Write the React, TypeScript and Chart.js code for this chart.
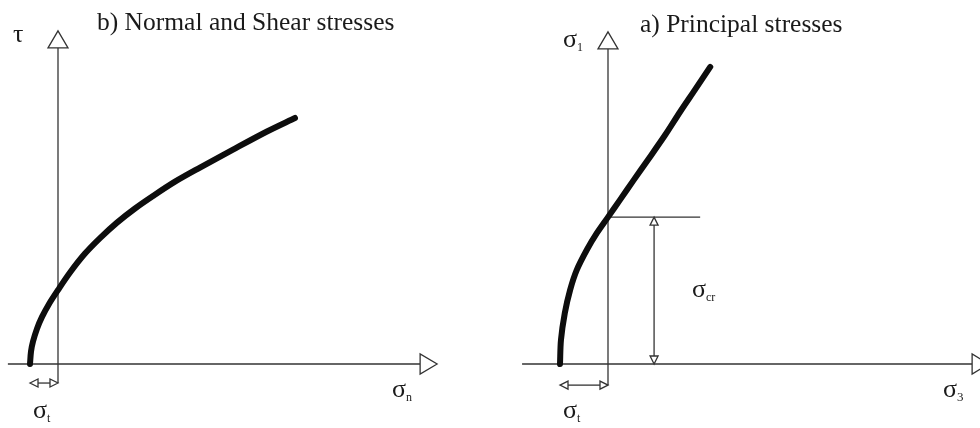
import React, { useEffect, useRef } from "react";
import { Chart, registerables } from "chart.js";

Chart.register(...registerables);

// Failure envelope in normal / shear stress space (stresses in units of σt)
const envelopeSigmaN = [-1.0, -0.964, -0.893, -0.75, -0.571, -0.321, 0, 0.429, 0.964, 1.5, 2.107, 2.75, 3.393, 4.179, 5.071, 6.25, 7.464, 8.464];
const envelopeTau = [0, 0.446, 0.8, 1.261, 1.682, 2.146, 2.643, 3.268, 3.943, 4.496, 5.05, 5.554, 6.0, 6.511, 7.014, 7.657, 8.304, 8.786];

// Failure envelope in principal stress space (stresses in units of σt)
const envelopeSigma3 = [-1.0, -0.98, -0.9, -0.79, -0.65, -0.44, -0.23, 0, 0.25, 0.52, 0.83, 1.19, 1.5, 1.81, 2.13];
const envelopeSigma1 = [0, 0.5, 1.06, 1.54, 1.96, 2.38, 2.73, 3.06, 3.42, 3.81, 4.25, 4.77, 5.25, 5.71, 6.19];

const tensileStrength = 1; // σt
const crackStress = 3.06; // σcr

const titleLeft = "b) Normal and Shear stresses";
const titleRight = "a) Principal stresses";

const HEIGHT = 428;
const AXIS_COLOR = "#333";
const INK = "#0d0d0d";
const SERIF = '"Liberation Serif", "Times New Roman", serif';
const HEAD_LEN = 17;
const HEAD_HALF = 10;
const DIM_LEN = 8;
const DIM_HALF = 4;

type Label = { main: string; sub?: string; dx: number; dy: number; size: number; subSize?: number };

interface Panel {
  left: number;
  width: number;
  xRange: [number, number];
  yRange: [number, number];
  xAxis: [number, number];
  yAxis: [number, number];
  curveX: number[];
  curveY: number[];
  tensileY: number;
  crack?: { level: number; lineTo: number; arrowX: number };
  labels: Label[];
}

const panels: Panel[] = [
  {
    left: 0,
    width: 490,
    xRange: [-58 / 28, 432 / 28],
    yRange: [-64 / 28, 364 / 28],
    xAxis: [-1.79, 13.54],
    yAxis: [-0.68, 11.9],
    curveX: envelopeSigmaN,
    curveY: envelopeTau,
    tensileY: -0.68,
    labels: [
      { main: titleLeft, dx: 39, dy: -334, size: 25.5 },
      { main: "τ", dx: -45, dy: -322, size: 26 },
      { main: "σ", sub: "n", dx: 334, dy: 33, size: 26, subSize: 12 },
      { main: "σ", sub: "t", dx: -25, dy: 54, size: 26, subSize: 12 },
    ],
  },
  {
    left: 490,
    width: 490,
    xRange: [-118 / 48, 372 / 48],
    yRange: [-64 / 48, 364 / 48],
    xAxis: [-1.79, 7.94],
    yAxis: [-0.44, 6.92],
    curveX: envelopeSigma3,
    curveY: envelopeSigma1,
    tensileY: -0.44,
    crack: { level: crackStress, lineTo: 1.92, arrowX: 0.96 },
    labels: [
      { main: titleRight, dx: 32, dy: -332, size: 25.5 },
      { main: "σ", sub: "1", dx: -45, dy: -317, size: 26, subSize: 12 },
      { main: "σ", sub: "3", dx: 335, dy: 33, size: 26, subSize: 13 },
      { main: "σ", sub: "t", dx: -45, dy: 54, size: 26, subSize: 12 },
      { main: "σ", sub: "cr", dx: 84, dy: -67, size: 26, subSize: 12 },
    ],
  },
];

// Open triangular arrowhead with its tip at (tx, ty) pointing along (ux, uy)
function head(ctx: CanvasRenderingContext2D, tx: number, ty: number, ux: number, uy: number, len: number, half: number) {
  const bx = tx - ux * len;
  const by = ty - uy * len;
  const px = -uy;
  const py = ux;
  ctx.beginPath();
  ctx.moveTo(tx, ty);
  ctx.lineTo(bx + px * half, by + py * half);
  ctx.lineTo(bx - px * half, by - py * half);
  ctx.closePath();
  ctx.fillStyle = "#fff";
  ctx.fill();
  ctx.stroke();
}

function segment(ctx: CanvasRenderingContext2D, x1: number, y1: number, x2: number, y2: number) {
  ctx.beginPath();
  ctx.moveTo(x1, y1);
  ctx.lineTo(x2, y2);
  ctx.stroke();
}

// Double-headed dimension arrow between two points
function dimension(ctx: CanvasRenderingContext2D, x1: number, y1: number, x2: number, y2: number) {
  const L = Math.hypot(x2 - x1, y2 - y1);
  const ux = (x2 - x1) / L;
  const uy = (y2 - y1) / L;
  segment(ctx, x1 + ux * DIM_LEN, y1 + uy * DIM_LEN, x2 - ux * DIM_LEN, y2 - uy * DIM_LEN);
  head(ctx, x1, y1, -ux, -uy, DIM_LEN, DIM_HALF);
  head(ctx, x2, y2, ux, uy, DIM_LEN, DIM_HALF);
}

function makeSchematic(p: Panel) {
  return {
    id: "schematic",
    beforeDatasetsDraw(chart: Chart) {
      const ctx = chart.ctx;
      const X = (v: number) => chart.scales.x.getPixelForValue(v);
      const Y = (v: number) => chart.scales.y.getPixelForValue(v);
      const ox = X(0);
      const oy = Y(0);
      ctx.save();
      ctx.strokeStyle = AXIS_COLOR;
      ctx.lineWidth = 1.3;
      ctx.lineJoin = "miter";

      // horizontal axis
      const xTip = X(p.xAxis[1]);
      segment(ctx, X(p.xAxis[0]), oy, xTip - HEAD_LEN, oy);
      head(ctx, xTip, oy, 1, 0, HEAD_LEN, HEAD_HALF);

      // vertical axis
      const yTip = Y(p.yAxis[1]);
      segment(ctx, ox, Y(p.yAxis[0]), ox, yTip + HEAD_LEN);
      head(ctx, ox, yTip, 0, -1, HEAD_LEN, HEAD_HALF);

      // tensile strength dimension
      const ty = Y(p.tensileY);
      dimension(ctx, X(-tensileStrength), ty, ox, ty);

      // crack initiation stress
      if (p.crack) {
        const cy = Y(p.crack.level);
        segment(ctx, ox, cy, X(p.crack.lineTo), cy);
        const ax = X(p.crack.arrowX);
        dimension(ctx, ax, cy, ax, oy);
      }
      ctx.restore();
    },
    afterDraw(chart: Chart) {
      const ctx = chart.ctx;
      const ox = chart.scales.x.getPixelForValue(0);
      const oy = chart.scales.y.getPixelForValue(0);
      ctx.save();
      ctx.fillStyle = "#1a1a1a";
      ctx.textBaseline = "alphabetic";
      ctx.textAlign = "left";
      for (const l of p.labels) {
        const x = ox + l.dx;
        const y = oy + l.dy;
        ctx.font = `${l.size}px ${SERIF}`;
        ctx.fillText(l.main, x, y);
        if (l.sub) {
          const w = ctx.measureText(l.main).width;
          ctx.font = `${l.subSize}px ${SERIF}`;
          ctx.fillText(l.sub, x + w, y + 4);
        }
      }
      ctx.restore();
    },
  };
}

function PanelChart({ panel }: { panel: Panel }) {
  const ref = useRef<HTMLCanvasElement>(null);
  useEffect(() => {
    const chart = new Chart(ref.current!, {
      type: "scatter",
      data: {
        datasets: [
          {
            data: panel.curveX.map((x, i) => ({ x, y: panel.curveY[i] })),
            showLine: true,
            borderColor: INK,
            borderWidth: 6,
            pointRadius: 0,
            tension: 0.3,
            borderCapStyle: "round",
            borderJoinStyle: "round",
            clip: false,
          } as any,
        ],
      },
      options: {
        animation: false,
        responsive: false,
        devicePixelRatio: 1,
        events: [],
        layout: { padding: 0 },
        plugins: { legend: { display: false }, tooltip: { enabled: false }, title: { display: false } },
        scales: {
          x: { type: "linear", display: false, min: panel.xRange[0], max: panel.xRange[1] },
          y: { type: "linear", display: false, min: panel.yRange[0], max: panel.yRange[1] },
        },
      },
      plugins: [makeSchematic(panel)],
    });
    return () => chart.destroy();
  }, [panel]);
  return (
    <canvas
      ref={ref}
      width={panel.width}
      height={HEIGHT}
      style={{ position: "absolute", left: panel.left, top: 0, width: panel.width, height: HEIGHT }}
    />
  );
}

export default function App() {
  return (
    <div style={{ position: "fixed", left: 0, top: 0, width: 980, height: HEIGHT, background: "#fff", overflow: "hidden" }}>
      {panels.map((p, i) => (
        <PanelChart key={i} panel={p} />
      ))}
    </div>
  );
}
